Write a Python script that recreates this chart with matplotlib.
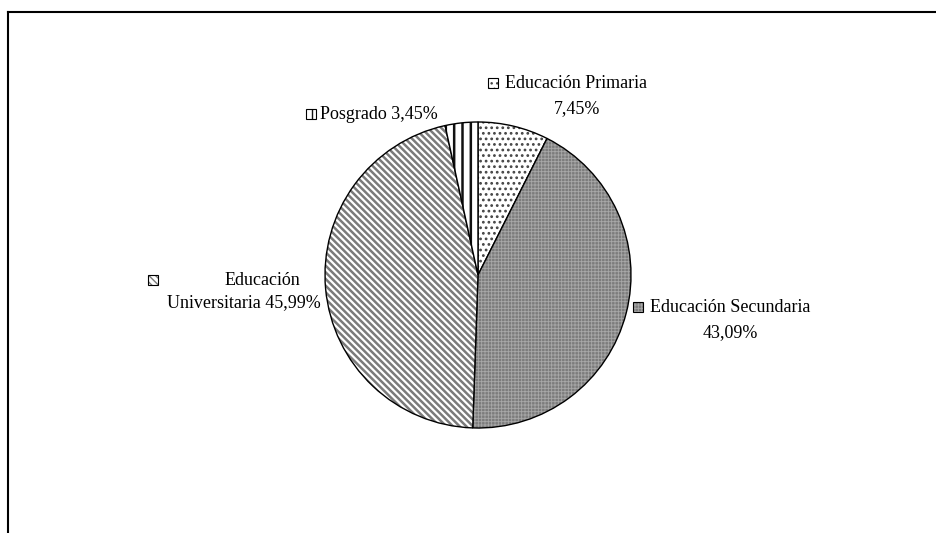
import matplotlib
matplotlib.use("Agg")
import matplotlib.pyplot as plt
from matplotlib.patches import Rectangle
from matplotlib.colors import to_rgba

# datos
categorias = ["Educación Primaria", "Educación Secundaria", "Educación Universitaria", "Posgrado"]
porcentajes = [7.45, 43.09, 45.99, 3.45]
etiquetas = [
    "Educación Primaria\n7,45%",
    "Educación Secundaria\n43,09%",
    "Educación\nUniversitaria 45,99%",
    "Posgrado 3,45%",
]
tramas = ["...", "+++++", "\\\\\\\\\\", "||"]
rellenos = ["white", "#7c7c7c", "white", "white"]
colores_trama = ["#444444", "#a8a8a8", "#7a7a7a", "#111111"]
grosor_trama = [1.2, 0.6, 1.8, 1.8]

plt.rcParams["font.family"] = ["Liberation Serif", "DejaVu Serif"]


def tramar(p, h, f, c, lw):
    p.set_facecolor(f)
    p.set_hatch(h)
    p._hatch_color = to_rgba(c)
    if hasattr(p, "set_hatch_linewidth"):
        p.set_hatch_linewidth(lw)
    else:
        p._hatch_linewidth = lw


fig = plt.figure(figsize=(9.37, 5.33), dpi=100)
ax = fig.add_axes([0, 0, 1, 1])

# marco (solo se ven arriba e izquierda)
ax.plot([8.5, 937], [521, 521], color="black", lw=1.5)
ax.plot([8.5, 8.5], [0, 521], color="black", lw=1.5)

cuñas, _ = ax.pie(porcentajes, center=(478, 258), radius=153, startangle=90,
                  counterclock=False, frame=True,
                  wedgeprops=dict(edgecolor="black", linewidth=1.0))
for w, h, f, c, lw in zip(cuñas, tramas, rellenos, colores_trama, grosor_trama):
    tramar(w, h, f, c, lw)
ax.set_xlim(0, 937)
ax.set_ylim(0, 533)
ax.set_aspect("equal")
ax.axis("off")

fs = 13
# posiciones de las etiquetas (x del cuadro, y de la primera línea, x centro del texto)
pos = [(493, 450, 577), (638, 226, 730), (153, 253, 262), (311, 419, 385)]
for (xc, y, xt), lab, h, f, c, lw in zip(pos, etiquetas, tramas, rellenos,
                                         colores_trama, grosor_trama):
    r = Rectangle((xc - 5, y - 5), 10, 10, edgecolor="black", lw=0.8)
    tramar(r, h, f, c, min(lw, 1.0))
    ax.add_patch(r)
    lineas = lab.split("\n")
    if len(lineas) == 1:
        ax.text(xc + 9, y, lineas[0], fontsize=fs, va="center", ha="left")
    elif xt == 262:
        ax.text(xt, y, lineas[0], fontsize=fs, va="center", ha="center")
        ax.text(244, y - 23, lineas[1], fontsize=fs, va="center", ha="center")
    else:
        ax.text(xc + 12, y, lineas[0], fontsize=fs, va="center", ha="left")
        ax.text(xt, y - 26, lineas[1], fontsize=fs, va="center", ha="center")

fig.savefig("out.png", dpi=100)
